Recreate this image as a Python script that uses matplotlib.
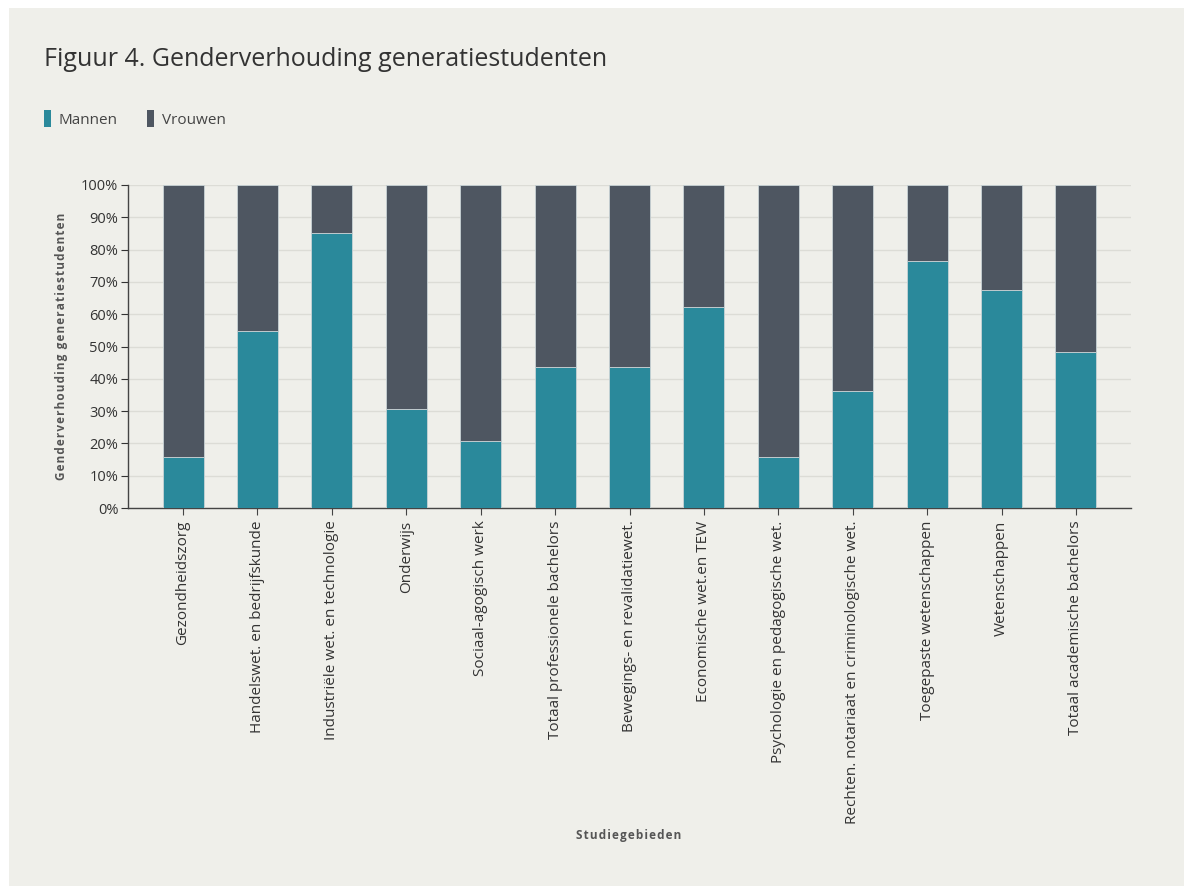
import matplotlib
matplotlib.use("Agg")
import matplotlib.pyplot as plt
from matplotlib.patches import Rectangle
from matplotlib.ticker import FuncFormatter, MultipleLocator

# --- data --------------------------------------------------------------
categorieen = [
    "Gezondheidszorg",
    "Handelswet. en bedrijfskunde",
    "Industriële wet. en technologie",
    "Onderwijs",
    "Sociaal-agogisch werk",
    "Totaal professionele bachelors",
    "Bewegings- en revalidatiewet.",
    "Economische wet.en TEW",
    "Psychologie en pedagogische wet.",
    "Rechten. notariaat en criminologische wet.",
    "Toegepaste wetenschappen",
    "Wetenschappen",
    "Totaal academische bachelors",
]
mannen = [15.8, 54.8, 85.1, 30.7, 20.7, 43.7, 43.7, 62.2, 15.8, 36.2, 76.5, 67.5, 48.3]
vrouwen = [84.2, 45.2, 14.9, 69.3, 79.3, 56.3, 56.3, 37.8, 84.2, 63.8, 23.5, 32.5, 51.7]

BG = "#efefea"
TEAL = "#2a899b"
DARK = "#4e5661"
TXT = "#333333"

plt.rcParams["font.family"] = ["Open Sans", "DejaVu Sans"]


def spaced(s):
    # letter spacing by hair spaces (as in the reference axis titles)
    return "\u200a".join(s)


fig = plt.figure(figsize=(11.84, 8.86), dpi=100)
fig.patch.set_facecolor("white")
fig.patches.append(Rectangle((9 / 1184, 0), 1 - 9 / 1184, 1 - 8 / 886,
                             transform=fig.transFigure, facecolor=BG,
                             edgecolor="none", zorder=-10))

ax = fig.add_axes([128 / 1184, 1 - 508 / 886, (1131 - 128) / 1184, (508 - 185) / 886])
ax.set_facecolor(BG)

x = list(range(len(categorieen)))
ax.bar(x, mannen, width=0.55, color=TEAL, edgecolor="#c8d3d6", linewidth=0.6,
       zorder=3, label="Mannen")
ax.bar(x, vrouwen, width=0.55, bottom=mannen, color=DARK, edgecolor="#c8d3d6",
       linewidth=0.6, zorder=3, label="Vrouwen")

ax.set_xlim(-0.74, len(categorieen) - 1 + 0.74)
ax.set_ylim(0, 100)
ax.yaxis.set_major_locator(MultipleLocator(10))
ax.yaxis.set_major_formatter(FuncFormatter(lambda v, p: "%d%%" % v))
ax.grid(True, axis="y", color="#dcdcd6", linewidth=1, zorder=0)

for s in ["top", "right"]:
    ax.spines[s].set_visible(False)
for s in ["left", "bottom"]:
    ax.spines[s].set_color("#444444")
    ax.spines[s].set_linewidth(1)

ax.set_xticks(x)
ax.set_xticklabels(categorieen, rotation=90, fontsize=11, color=TXT)
ax.tick_params(axis="y", labelsize=10.5, colors=TXT, length=5, pad=2)
ax.tick_params(axis="x", length=5, pad=4, color="#444444")

fig.text(62 / 1184, 1 - 346 / 886, spaced("Genderverhouding generatiestudenten"),
         rotation=90, ha="center", va="center",
         fontsize=8.5, fontweight="bold", color="#555555")

fig.text(629 / 1184, 1 - 836 / 886, spaced("Studiegebieden"), ha="center", va="center",
         fontsize=8.5, fontweight="bold", color="#555555")

fig.text(44 / 1184, 1 - 60 / 886, "Figuur 4. Genderverhouding generatiestudenten",
         ha="left", va="center", fontsize=18, color="#333333")

# legend
for lx, col, lab in [(44, TEAL, "Mannen"), (147, DARK, "Vrouwen")]:
    fig.patches.append(Rectangle((lx / 1184, 1 - 127 / 886), 7 / 1184, 17 / 886,
                                 transform=fig.transFigure, facecolor=col,
                                 edgecolor="none"))
    fig.text((lx + 15) / 1184, 1 - 120 / 886, lab, ha="left", va="center",
             fontsize=11, color="#444444")

fig.savefig("out.png", dpi=100, facecolor=fig.get_facecolor())
